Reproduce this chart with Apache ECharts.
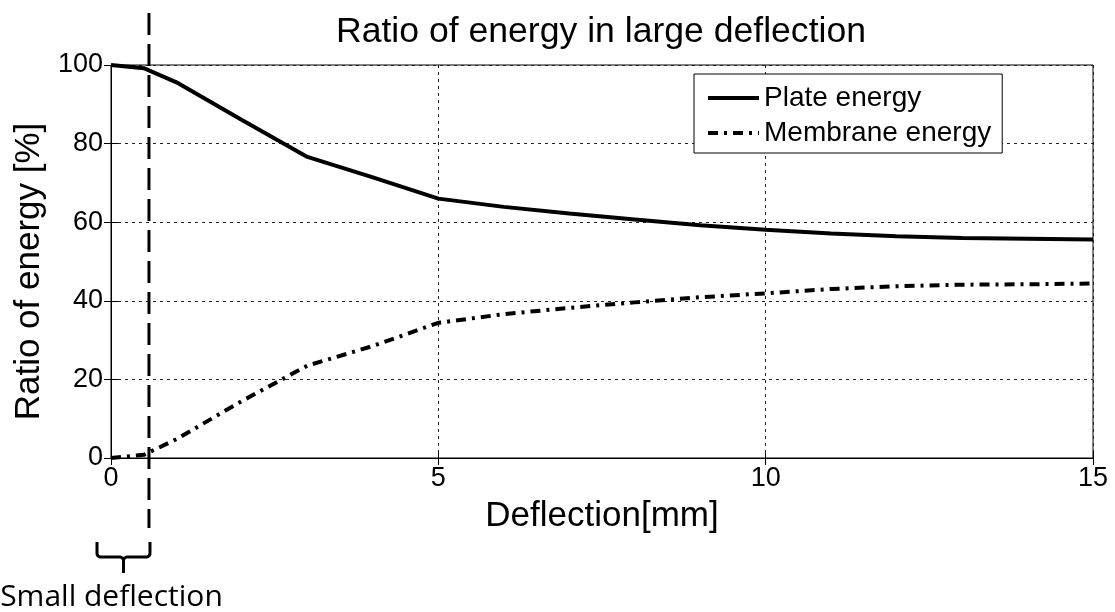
<!DOCTYPE html>
<html>
<head>
<meta charset="utf-8">
<script src="https://cdn.jsdelivr.net/npm/echarts@6/dist/echarts.min.js"></script>
<style>
  html, body { margin: 0; padding: 0; background: #fff; }
  #chart { width: 1115px; height: 612px; }
</style>
</head>
<body>
<div id="chart"></div>
<script>
// Deflection [mm] and share of total strain energy [%]
const deflection = [0, 0.5, 1, 2, 3, 4, 5, 6, 7, 8, 9, 10, 11, 12, 13, 14, 15];
const plateEnergy = [100, 99.2, 95.6, 86.0, 76.6, 71.4, 66.0, 63.9, 62.2, 60.7, 59.2, 58.1, 57.1, 56.4, 56.0, 55.8, 55.6];
const membraneEnergy = [0, 0.8, 4.8, 14.5, 23.5, 28.5, 34.4, 36.6, 38.2, 39.6, 40.9, 41.9, 43.0, 43.7, 44.1, 44.2, 44.4];
const xTicks = [0, 5, 10, 15];
const yTicks = [0, 20, 40, 60, 80, 100];
// Upper limit of the small-deflection range [mm]
const smallLimit = 0.58;

const pairs = (xs, ys) => xs.map((x, i) => [x, ys[i]]);

const font = '"Liberation Sans", Arial, sans-serif';
const gridLine = { show: true, lineStyle: { color: '#222', type: [3, 4], width: 1 } };

const chart = echarts.init(document.getElementById('chart'), null, { renderer: 'canvas' });

chart.setOption({
  animation: false,
  backgroundColor: '#fff',
  title: {
    text: 'Ratio of energy in large deflection',
    left: 596, top: 9, textAlign: 'center',
    textStyle: { fontFamily: font, fontSize: 35.6, fontWeight: 'normal', color: '#000' }
  },
  grid: { left: 111, top: 65, right: 22, bottom: 154, show: true, borderColor: '#000', borderWidth: 1 },
  legend: {
    orient: 'vertical',
    left: 694, top: 74,
    padding: [10, 11, 6, 12],
    itemGap: 7,
    itemWidth: 51, itemHeight: 14,
    backgroundColor: '#fff',
    borderColor: '#000', borderWidth: 1, borderRadius: 0,
    itemStyle: { opacity: 0 },
    lineStyle: { width: 4 },
    textStyle: { fontFamily: font, fontSize: 28, color: '#000', lineHeight: 28 },
    data: ['Plate energy', 'Membrane energy']
  },
  xAxis: [{
    type: 'value', min: xTicks[0], max: xTicks[xTicks.length - 1], interval: 5,
    name: 'Deflection[mm]', nameLocation: 'middle', nameGap: 41,
    nameTextStyle: { fontFamily: font, fontSize: 35, color: '#000' },
    axisLine: { show: true, onZero: false, lineStyle: { color: '#000', width: 1 } },
    axisTick: { show: true, inside: true, length: 7, lineStyle: { color: '#000' } },
    axisLabel: { fontFamily: font, fontSize: 27, color: '#000', margin: 7 },
    splitLine: gridLine
  }, {
    type: 'value', position: 'top', min: xTicks[0], max: xTicks[xTicks.length - 1], interval: 5,
    axisLine: { show: true, lineStyle: { color: '#000', width: 1 } },
    axisTick: { show: true, inside: true, length: 7, lineStyle: { color: '#000' } },
    axisLabel: { show: false }, splitLine: { show: false }
  }],
  yAxis: [{
    type: 'value', min: yTicks[0], max: yTicks[yTicks.length - 1], interval: 20,
    name: 'Ratio of energy [%]', nameLocation: 'middle', nameGap: 62,
    nameTextStyle: { fontFamily: font, fontSize: 35, color: '#000', padding: [0, 20, 0, 0] },
    axisLine: { show: true, onZero: false, lineStyle: { color: '#000', width: 1 } },
    axisTick: { show: true, inside: true, length: 7, lineStyle: { color: '#000' } },
    axisLabel: { fontFamily: font, fontSize: 27, color: '#000', margin: 8 },
    splitLine: gridLine
  }, {
    type: 'value', position: 'right', min: yTicks[0], max: yTicks[yTicks.length - 1], interval: 20,
    axisLine: { show: true, lineStyle: { color: '#000', width: 1 } },
    axisTick: { show: true, inside: true, length: 7, lineStyle: { color: '#000' } },
    axisLabel: { show: false }, splitLine: { show: false }
  }],
  series: [{
    name: 'Plate energy', type: 'line', symbol: 'none', smooth: false,
    xAxisIndex: 0, yAxisIndex: 0,
    lineStyle: { color: '#000', width: 4, type: 'solid' },
    itemStyle: { color: '#000' },
    data: pairs(deflection, plateEnergy)
  }, {
    name: 'Membrane energy', type: 'line', symbol: 'none', smooth: false,
    xAxisIndex: 0, yAxisIndex: 0,
    lineStyle: { color: '#000', width: 4, type: [10, 6, 3, 6] },
    itemStyle: { color: '#000' },
    data: pairs(deflection, membraneEnergy)
  }]
});

// Marker of the small-deflection range, placed from the axis scale
const px = chart.convertToPixel({ xAxisIndex: 0 }, smallLimit);
const x0 = chart.convertToPixel({ xAxisIndex: 0 }, 0);
const L = x0 - 14, R = px + 1, C = (L + R) / 2;
const braceTop = 542, braceMid = 557, stemEnd = 573;
const braceStyle = { stroke: '#000', lineWidth: 3, fill: null, lineJoin: 'round' };

chart.setOption({
  graphic: [{
    type: 'line', z: 100,
    shape: { x1: px, y1: 13, x2: px, y2: 528 },
    style: { stroke: '#000', lineWidth: 3, lineDash: [22, 9] }
  }, {
    type: 'polyline', z: 100,
    shape: { points: [[L, braceTop], [L, braceMid - 3], [L + 1, braceMid - 1], [L + 3, braceMid],
                      [C - 3, braceMid], [C - 1, braceMid + 1], [C, braceMid + 3], [C, stemEnd]] },
    style: braceStyle
  }, {
    type: 'polyline', z: 100,
    shape: { points: [[C, braceMid + 3], [C + 1, braceMid + 1], [C + 3, braceMid],
                      [R - 3, braceMid], [R - 1, braceMid - 1], [R, braceMid - 3], [R, braceTop]] },
    style: braceStyle
  }, {
    type: 'text', z: 100,
    x: C - 12, y: 597,
    style: {
      text: 'Small deflection', fill: '#000',
      font: '30px "Open Sans", Lato, sans-serif',
      textAlign: 'center', textVerticalAlign: 'middle'
    }
  }]
});
</script>
</body>
</html>
